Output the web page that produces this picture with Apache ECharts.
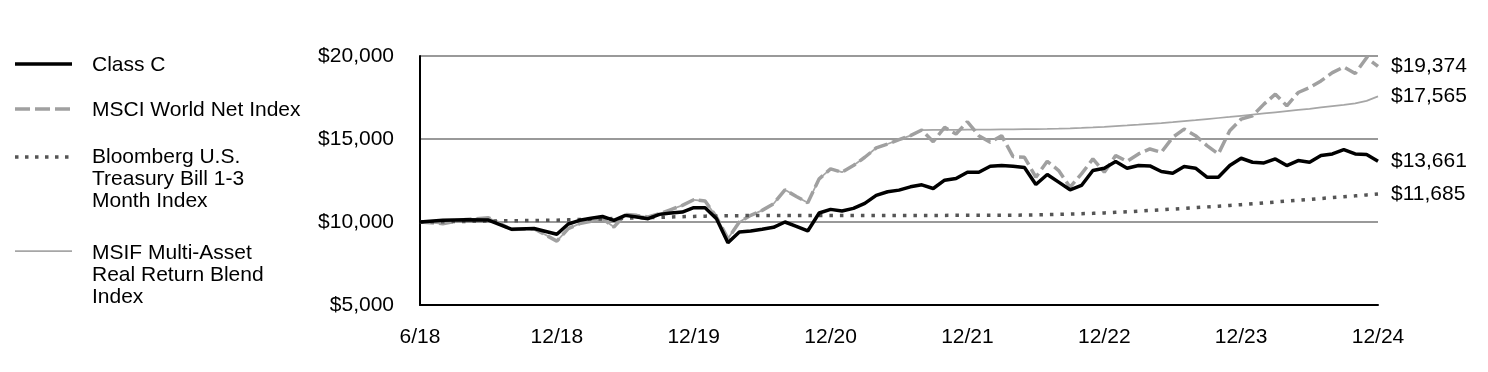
<!DOCTYPE html>
<html>
<head>
<meta charset="utf-8">
<script src="https://cdn.jsdelivr.net/npm/echarts@6/dist/echarts.min.js"></script>
<style>html,body{margin:0;padding:0;background:#fff}#c{width:1488px;height:372px}</style>
</head>
<body>
<div id="c"></div>
<script>
// Tick labels shown on the x axis (every 12th slot)
const tickLabels = ['6/18','12/18','12/19','12/20','12/21','12/22','12/23','12/24'];
// Y axis ticks
const yMin = 5000, yMax = 20000, yStep = 5000;

// Series values (first half-year drawn at every other slot, null between)
const classC = [10000,null,10100,null,10140,null,10120,null,9570,null,9610,null,9260,
 9880,10100,10230,10330,10100,10400,10300,10200,10460,10540,10600,10860,
 10860,10200,8750,9400,9460,9560,9680,10000,9740,9460,10540,10760,
 10660,10820,11120,11600,11820,11920,12120,12240,12020,12520,12620,13000,
 13000,13360,13400,13360,13280,12260,12860,12400,11940,12200,13100,13240,
 13640,13240,13400,13380,13040,12940,13340,13240,12700,12700,13400,13840,
 13600,13560,13800,13400,13700,13600,14000,14100,14360,14100,14060,13661];

const msci = [10000,null,9900,null,10150,null,10260,null,9550,null,9600,null,8850,
 9600,9900,10050,10200,9700,10450,10400,10300,10500,10750,11000,11340,
 11260,10300,9000,10000,10400,10700,11100,11940,11540,11160,12600,13200,
 13000,13400,13900,14460,14700,14960,15200,15540,14840,15700,15300,16040,
 15200,14800,15200,13940,13900,12700,13660,13100,12100,12900,13800,13000,
 14000,13660,14100,14400,14200,15100,15600,15200,14600,14100,15500,16200,
 16400,17100,17700,17000,17800,18100,18500,19000,19340,18940,19900,19374];

const tbill = [10000,null,10018,null,10036,null,10055,null,10074,null,10092,null,10110,
 10130,10148,10168,10188,10208,10228,10248,10266,10284,10302,10320,10338,
 10352,10366,10378,10384,10386,10388,10389,10390,10391,10392,10393,10394,
 10395,10395,10396,10396,10397,10397,10398,10398,10399,10399,10400,10400,
 10400,10402,10405,10410,10418,10430,10445,10462,10480,10500,10520,10545,
 10580,10615,10655,10695,10735,10778,10822,10866,10910,10955,11000,11045,
 11098,11151,11204,11257,11310,11363,11416,11469,11522,11575,11630,11685];

const blend = [10000,null,9900,null,10150,null,10260,null,9550,null,9600,null,8850,
 9600,9900,10050,10200,9700,10450,10400,10300,10500,10750,11000,11340,
 11260,10300,9000,10000,10400,10700,11100,11940,11540,11160,12600,13200,
 13000,13400,13900,14460,14700,14960,15200,15540,15545,15550,15555,15560,
 15565,15570,15575,15580,15590,15600,15610,15625,15645,15670,15700,15735,
 15775,15815,15860,15910,15960,16015,16075,16135,16200,16265,16330,16400,
 16470,16540,16610,16680,16750,16820,16900,16980,17060,17150,17300,17565];

const seriesNames = ['Class C','MSCI World Net Index','Bloomberg U.S.\nTreasury Bill 1-3\nMonth Index','MSIF Multi-Asset\nReal Return Blend\nIndex'];

// category slots: 12 slots for the first 6 months, then one per month
const categories = [];
for (let i = 0; i < classC.length; i++) {
  if (i % 12 === 0) categories.push(tickLabels[i / 12]);
  else categories.push('s' + i);
}

const FONT = 'Liberation Sans, Arial, sans-serif';
const FS = 21;
const money = v => '$' + Number(v).toLocaleString('en-US');
const endLbl = { show: true, formatter: p => money(p.value), distance: 13, fontSize: FS, color: '#000', fontFamily: FONT };

const chart = echarts.init(document.getElementById('c'));
chart.setOption({
  animation: false,
  textStyle: { fontFamily: FONT },
  grid: { left: 420, right: 110, top: 56, bottom: 67, containLabel: false },
  xAxis: {
    type: 'category', data: categories, boundaryGap: false,
    axisLine: { lineStyle: { color: '#000', width: 2 } },
    axisTick: { show: false },
    axisLabel: { interval: 11, color: '#000', fontSize: FS, margin: 22, fontFamily: FONT },
    splitLine: { show: false }
  },
  yAxis: {
    type: 'value', min: yMin, max: yMax, interval: yStep,
    axisLine: { show: true, lineStyle: { color: '#000', width: 2 } },
    axisTick: { show: false },
    axisLabel: { formatter: v => money(v), color: '#000', fontSize: FS, margin: 26, fontFamily: FONT },
    splitLine: { lineStyle: { color: '#999999', width: 2 } }
  },
  series: [
    { name: seriesNames[3], type: 'line', data: blend, connectNulls: true, symbol: 'none', z: 2,
      lineStyle: { color: '#a6a6a6', width: 1.75 }, endLabel: endLbl },
    { name: seriesNames[1], type: 'line', data: msci, connectNulls: true, symbol: 'none', z: 3,
      lineStyle: { color: '#a0a0a0', width: 3.5, type: [14, 5] }, endLabel: endLbl },
    { name: seriesNames[2], type: 'line', data: tbill, connectNulls: true, symbol: 'none', z: 4,
      lineStyle: { color: '#555555', width: 3.5, type: [3.5, 7] }, endLabel: endLbl },
    { name: seriesNames[0], type: 'line', data: classC, connectNulls: true, symbol: 'none', z: 5,
      lineStyle: { color: '#000', width: 3.5 }, endLabel: endLbl }
  ],
  graphic: [
    { type: 'line', shape: { x1: 15, y1: 64, x2: 72, y2: 64 }, style: { stroke: '#000', lineWidth: 3.5 } },
    { type: 'line', shape: { x1: 15, y1: 109, x2: 72, y2: 109 }, style: { stroke: '#a0a0a0', lineWidth: 3.5, lineDash: [15, 5] } },
    { type: 'line', shape: { x1: 15, y1: 157, x2: 72, y2: 157 }, style: { stroke: '#555555', lineWidth: 3.5, lineDash: [3.5, 6.5] } },
    { type: 'line', shape: { x1: 15, y1: 251, x2: 72, y2: 251 }, style: { stroke: '#a6a6a6', lineWidth: 1.75 } },
    { type: 'text', left: 92, top: 54, style: { text: seriesNames[0], font: FS + 'px ' + FONT, fill: '#000', lineHeight: 22 } },
    { type: 'text', left: 92, top: 99, style: { text: seriesNames[1], font: FS + 'px ' + FONT, fill: '#000', lineHeight: 22 } },
    { type: 'text', left: 92, top: 146, style: { text: seriesNames[2], font: FS + 'px ' + FONT, fill: '#000', lineHeight: 22 } },
    { type: 'text', left: 92, top: 242, style: { text: seriesNames[3], font: FS + 'px ' + FONT, fill: '#000', lineHeight: 22 } }
  ]
});
</script>
</body>
</html>
